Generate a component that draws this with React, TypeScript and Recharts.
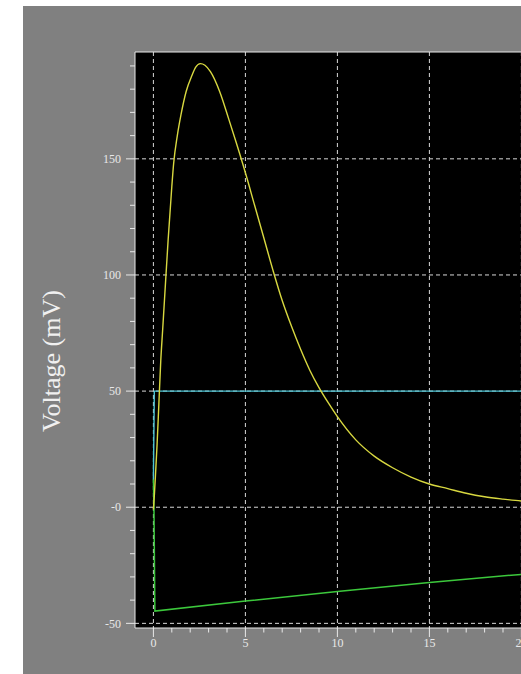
import { LineChart, Line, XAxis, YAxis, CartesianGrid, ReferenceLine } from "recharts";

// yellow trace
const yellowT = [0, 0.05, 0.1, 0.2, 0.3, 0.4, 0.5, 0.6, 0.8, 1.0, 1.1, 1.3, 1.5, 1.78, 2.1, 2.3, 2.55, 2.8, 3.1, 3.6, 4.1, 4.5, 5, 5.5, 6, 6.5, 7, 7.5, 8, 8.5, 9, 9.5, 10, 11, 12, 13, 14, 15, 16, 17, 18, 19, 20, 20.5];
const yellowV = [-1, 5, 12, 27, 45, 63, 76, 89, 115, 138, 148, 160, 169, 179, 186, 189.5, 191, 190.3, 187.5, 179, 167, 157, 144, 130, 116, 102, 89, 78, 68, 59, 51.5, 45, 39, 29, 22, 17, 13, 10, 8, 6, 4.5, 3.5, 2.7, 2.5];

// cyan trace
const cyanT = [0, 0.05, 20.5];
const cyanV = [12, 50, 50];

// green trace
const greenT = [0, 0.03, 0.08, 5, 10, 15, 20, 20.5];
const greenV = [12, 0, -44.7, -40.4, -36.3, -32.4, -28.9, -28.7];

const xMajor = [0, 5, 10, 15, 20];
const xMinor = [1, 2, 3, 4, 6, 7, 8, 9, 11, 12, 13, 14, 16, 17, 18, 19, 21, 22, 23];
const xLabels = ["0", "5", "10", "15", "20"];

const yMajor = [-50, 0, 50, 100, 150];
const yMinor = [-40, -30, -20, -10, 10, 20, 30, 40, 60, 70, 80, 90, 110, 120, 130, 140, 160, 170, 180, 190];
const yLabels = ["-50", "-0", "50", "100", "150"];

const toPoints = (ts: number[], vs: number[]) => ts.map((t, i) => ({ t, v: vs[i] }));

const yellow = toPoints(yellowT, yellowV);
const cyan = toPoints(cyanT, cyanV);
const green = toPoints(greenT, greenV);

const FONT = "'Liberation Serif', 'DejaVu Serif', serif";
const INK = "#e8e8e8";

const XTick = (props: any) => {
  const { x, y, payload } = props;
  const i = xMajor.indexOf(payload.value);
  const major = i >= 0;
  return (
    <g>
      <line x1={x} x2={x} y1={y} y2={y + (major ? 9 : 4.5)} stroke={INK} strokeWidth={1} />
      {major && (
        <text x={x} y={y + 19} textAnchor="middle" fill={INK} fontSize={12} fontFamily={FONT}>
          {xLabels[i]}
        </text>
      )}
    </g>
  );
};

const YTick = (props: any) => {
  const { x, y, payload } = props;
  const i = yMajor.indexOf(payload.value);
  const major = i >= 0;
  return (
    <g>
      <line x1={x - (major ? 9 : 5)} x2={x} y1={y} y2={y} stroke={INK} strokeWidth={1} />
      {major && (
        <text x={x - 14} y={y} dy="0.35em" textAnchor="end" fill={INK} fontSize={12} fontFamily={FONT}>
          {yLabels[i]}
        </text>
      )}
    </g>
  );
};

const YLabel = () => (
  <text
    x={51}
    y={361}
    transform="rotate(-90 51 361)"
    textAnchor="middle"
    dominantBaseline="central"
    fill="#f0f0f0"
    fontSize={26}
    fontFamily={FONT}
  >
    Voltage (mV)
  </text>
);

export default function App() {
  return (
    <div style={{ position: "fixed", left: 0, top: 0, width: 521, height: 674, overflow: "hidden", background: "#fff" }}>
      <div style={{ position: "absolute", left: 23, top: 6, width: 600, height: 700, background: "#808080" }} />
      <div style={{ position: "absolute", left: 0, top: 0 }}>
        <LineChart width={640} height={674} margin={{ top: 52, right: 45, bottom: 16, left: 75 }}>
          <CartesianGrid
            fill="#000"
            stroke="#d8d8d8"
            strokeDasharray="4 3"
            horizontalValues={yMajor}
            verticalValues={xMajor}
          />
          <XAxis
            type="number"
            dataKey="t"
            domain={[-1, 24]}
            ticks={[...xMajor, ...xMinor].sort((a, b) => a - b)}
            interval={0}
            allowDataOverflow
            height={30}
            tickSize={0}
            tickMargin={0}
            tickLine={false}
            axisLine={{ stroke: INK }}
            tick={<XTick />}
          />
          <YAxis
            type="number"
            dataKey="v"
            domain={[-52, 196]}
            ticks={[...yMajor, ...yMinor].sort((a, b) => a - b)}
            interval={0}
            allowDataOverflow
            width={60}
            tickSize={0}
            tickMargin={0}
            tickLine={false}
            axisLine={{ stroke: INK }}
            tick={<YTick />}
            label={<YLabel />}
          />
          <ReferenceLine y={196} stroke={INK} />
          <Line data={green} dataKey="v" type="linear" stroke="#3cc83c" strokeWidth={1.5} dot={false} isAnimationActive={false} />
          <Line data={cyan} dataKey="v" type="linear" stroke="#4cc4d4" strokeWidth={1.4} dot={false} isAnimationActive={false} />
          <Line data={yellow} dataKey="v" type="monotone" stroke="#d8d840" strokeWidth={1.4} dot={false} isAnimationActive={false} />
        </LineChart>
      </div>
    </div>
  );
}
